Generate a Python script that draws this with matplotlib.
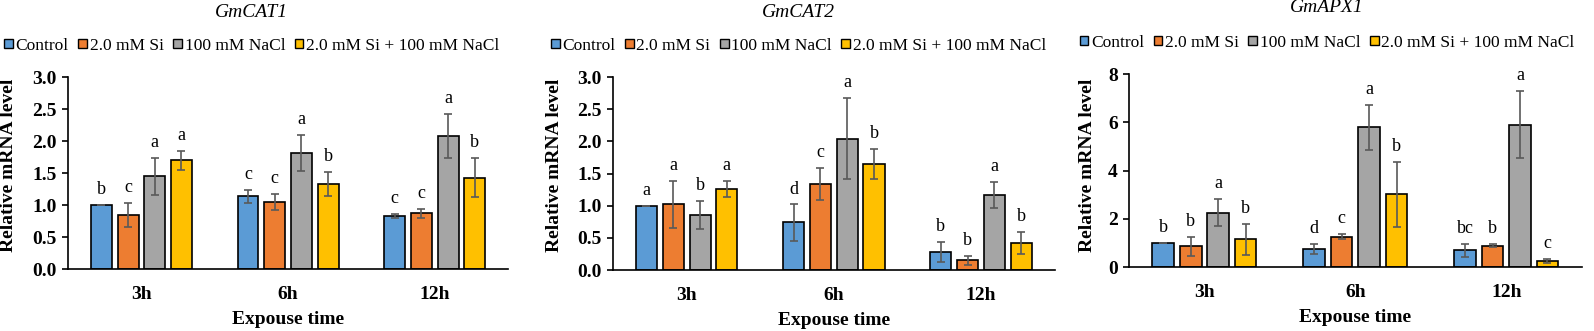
import matplotlib.pyplot as plt
import numpy as np
from matplotlib.patches import Patch

times = ["3h", "6h", "12h"]
treatments = ["Control", "2.0 mM Si", "100 mM NaCl", "2.0 mM Si + 100 mM NaCl"]
colors = ["#5B9BD5", "#ED7D31", "#A5A5A5", "#FFC000"]

# rows = treatments, columns = 3h, 6h, 12h
cat1_mean = [[1.00, 1.14, 0.83], [0.85, 1.05, 0.87], [1.45, 1.81, 2.08], [1.70, 1.33, 1.43]]
cat1_err = [[0.00, 0.10, 0.03], [0.19, 0.13, 0.07], [0.29, 0.28, 0.34], [0.15, 0.19, 0.31]]
cat1_letters = [["b", "c", "c"], ["c", "c", "c"], ["a", "a", "a"], ["a", "b", "b"]]

cat2_mean = [[1.00, 0.74, 0.28], [1.02, 1.34, 0.15], [0.86, 2.04, 1.17], [1.26, 1.65, 0.42]]
cat2_err = [[0.00, 0.28, 0.15], [0.37, 0.25, 0.07], [0.22, 0.63, 0.20], [0.12, 0.23, 0.17]]
cat2_letters = [["a", "d", "b"], ["a", "c", "b"], ["b", "a", "a"], ["a", "b", "b"]]

apx1_mean = [[1.00, 0.75, 0.69], [0.87, 1.26, 0.89], [2.26, 5.80, 5.91], [1.15, 3.02, 0.25]]
apx1_err = [[0.00, 0.20, 0.26], [0.39, 0.11, 0.06], [0.57, 0.93, 1.40], [0.64, 1.34, 0.07]]
apx1_letters = [["b", "d", "bc"], ["b", "c", "b"], ["a", "a", "a"], ["b", "b", "c"]]

plt.rcParams["font.family"] = ["Liberation Serif", "DejaVu Serif"]

fig = plt.figure(figsize=(15.94, 3.31), dpi=100)

panels = [
    dict(title="GmCAT1", mean=cat1_mean, err=cat1_err, letters=cat1_letters,
         rect=[0.0427, 0.187, 0.276, 0.580], ylim=3.0, yticks=np.arange(0, 3.01, 0.5), fmt="{:.1f}",
         cx=0.158, title_y=0.962, leg_y=0.862, ylab_x=0.0105),
    dict(title="GmCAT2", mean=cat2_mean, err=cat2_err, letters=cat2_letters,
         rect=[0.3846, 0.184, 0.277, 0.583], ylim=3.0, yticks=np.arange(0, 3.01, 0.5), fmt="{:.1f}",
         cx=0.501, title_y=0.962, leg_y=0.862, ylab_x=0.353),
    dict(title="GmAPX1", mean=apx1_mean, err=apx1_err, letters=apx1_letters,
         rect=[0.7083, 0.193, 0.284, 0.583], ylim=8, yticks=np.arange(0, 8.1, 2), fmt="{:.0f}",
         cx=0.8325, title_y=0.978, leg_y=0.871, ylab_x=0.6875),
]

x = np.arange(len(times))
step = 0.182
width = 0.143

for p in panels:
    ax = fig.add_axes(p["rect"])
    for i, name in enumerate(treatments):
        pos = x + (i - 1.5) * step
        ax.bar(pos, p["mean"][i], width, color=colors[i], edgecolor="black", linewidth=1.2, zorder=2)
        ax.errorbar(pos, p["mean"][i], yerr=p["err"][i], fmt="none", ecolor="#595959",
                    elinewidth=1.2, capsize=3, capthick=1.2, zorder=3)
        for j in range(len(times)):
            ax.annotate(p["letters"][i][j], (pos[j], p["mean"][i][j] + p["err"][i][j]),
                        xytext=(0, 5), textcoords="offset points", ha="center", va="bottom",
                        fontsize=13)
    ax.set_xlim(-0.5, 2.5)
    ax.set_ylim(0, p["ylim"])
    ax.set_yticks(p["yticks"])
    ax.set_yticklabels([p["fmt"].format(v) for v in p["yticks"]], fontsize=14, fontweight="bold")
    ax.set_xticks(x)
    ax.set_xticklabels(times, fontsize=14, fontweight="bold")
    ax.tick_params(axis="x", length=0, pad=12)
    ax.tick_params(axis="y", direction="out", length=4, width=1.2, pad=4)
    for side in ["top", "right"]:
        ax.spines[side].set_visible(False)
    ax.spines["left"].set_linewidth(1.2)
    ax.spines["bottom"].set_linewidth(1.2)
    ax.set_xlabel("Expouse time", fontsize=14, fontweight="bold", labelpad=6)
    ax.set_ylabel("Relative mRNA level", fontsize=14, fontweight="bold")
    ax.yaxis.set_label_coords(p["ylab_x"], 0.5, transform=fig.transFigure)

    fig.text(p["cx"], p["title_y"], p["title"], ha="center", va="center", fontsize=14, style="italic")
    handles = [Patch(facecolor=c, edgecolor="black", linewidth=1.0) for c in colors]
    fig.legend(handles, treatments, loc="center", bbox_to_anchor=(p["cx"], p["leg_y"]), ncol=4,
               frameon=False, fontsize=12.5, handlelength=0.5, handleheight=0.5, handletextpad=0.15,
               columnspacing=0.55, borderpad=0)

fig.savefig("out.png", dpi=100)
